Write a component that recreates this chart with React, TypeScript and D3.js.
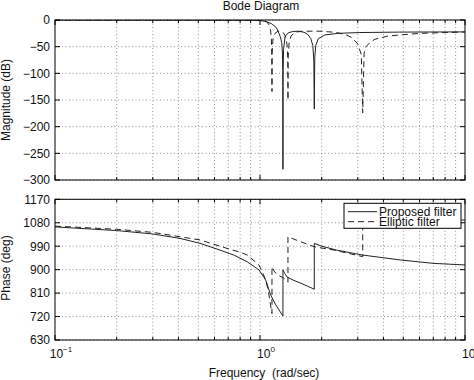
import React from "react";
import * as d3 from "d3";

// ---- Data (frequency rad/s, value) ----
const magProposed: [number, number][] = [
  [0.1, 0], [0.5, 0], [0.9, -0.3], [0.97, -0.8], [1.02, -1.5], [1.07, -3], [1.14, -7],
  [1.2, -14], [1.228, -22], [1.255, -31], [1.276, -42], [1.286, -60], [1.291, -95],
  [1.294, -280], [1.297, -95], [1.303, -55], [1.325, -31], [1.374, -24], [1.45, -21.5],
  [1.54, -21], [1.64, -23], [1.71, -27], [1.77, -35], [1.81, -48], [1.83, -75],
  [1.84, -167], [1.85, -70], [1.87, -48], [1.924, -35], [2.075, -28], [2.4, -25],
  [3.07, -23.5], [4.8, -22.7], [10, -22.3],
];

const magElliptic: [number, number][] = [
  [0.1, 0], [0.5, 0], [0.95, -0.3], [1.02, -1], [1.078, -3], [1.106, -9], [1.125, -18],
  [1.136, -35], [1.141, -60], [1.144, -134], [1.147, -60], [1.157, -35], [1.184, -25],
  [1.224, -21], [1.266, -21.5], [1.309, -25], [1.339, -33], [1.358, -50], [1.365, -72],
  [1.369, -150], [1.373, -70], [1.385, -45], [1.416, -30], [1.481, -23], [1.6, -21],
  [1.96, -21], [2.32, -23], [2.6, -27], [2.81, -33], [3.0, -45], [3.12, -65],
  [3.17, -174], [3.22, -62], [3.29, -50], [3.44, -42], [3.64, -36], [4.21, -30],
  [6.03, -25], [10, -22.5],
];

const phaseProposed: [number, number][] = [
  [0.1, 1064], [0.2, 1050], [0.3, 1037], [0.407, 1020], [0.51, 1001], [0.638, 975],
  [0.75, 955], [0.867, 930], [0.989, 899], [1.066, 860], [1.128, 803], [1.193, 765],
  [1.294, 722], [1.294, 899], [1.32, 885], [1.36, 871], [1.45, 860], [1.58, 848],
  [1.7, 837], [1.84, 825], [1.84, 1001], [2.0, 990], [2.366, 975], [3.17, 956],
  [4.85, 937], [7.06, 924], [10, 918],
];

const phaseElliptic: [number, number][] = [
  [0.1, 1067], [0.2, 1055], [0.3, 1043], [0.51, 1014], [0.714, 978], [0.8, 967],
  [0.867, 956], [0.989, 918], [1.034, 885], [1.07, 858], [1.1, 815], [1.125, 765],
  [1.144, 732], [1.144, 911], [1.17, 895], [1.214, 880], [1.29, 870], [1.34, 860],
  [1.369, 852], [1.369, 1026], [1.579, 1007], [1.84, 988], [2.3, 975], [3.17, 950],
  [3.17, 1130], [4, 1115], [6, 1100], [10, 1090],
];

const magTicks = [0, -50, -100, -150, -200, -250, -300];
const phaseTicks = [630, 720, 810, 900, 990, 1080, 1170];
const decadeTicks = [0.1, 1, 10];
const decadeExps = ["\u22121", "0", "1"];
const legendLabels = ["Proposed filter", "Elliptic filter"];

const FONT = "'Liberation Sans', Arial, Helvetica, sans-serif";

const L = 55, R = 465;
const x = d3.scaleLog().domain([0.1, 10]).range([L, R]);
const yMag = d3.scaleLinear().domain([-300, 0]).range([180, 20]);
const yPh = d3.scaleLinear().domain([630, 1170]).range([340, 199.3]);

const minorX: number[] = [];
for (const dec of [0.1, 1]) for (let k = 2; k <= 9; k++) minorX.push(dec * k);

function Panel({ y, ticks, top, bottom, id }: { y: d3.ScaleLinear<number, number>; ticks: number[]; top: number; bottom: number; id: string }) {
  const allX = [...minorX, 1];
  return (
    <g>
      <rect x={L} y={top} width={R - L} height={bottom - top} fill="#fff" />
      {allX.map((v, i) => (
        <line key={"gx" + i} x1={x(v)} x2={x(v)} y1={top} y2={bottom} stroke="#777" strokeWidth={0.8} strokeDasharray="1 2.5" />
      ))}
      {ticks.map((t, i) => (
        <line key={"gy" + i} x1={L} x2={R} y1={y(t)} y2={y(t)} stroke="#777" strokeWidth={0.8} strokeDasharray="1 2.5" />
      ))}
      <clipPath id={id}><rect x={L} y={top} width={R - L} height={bottom - top} /></clipPath>
    </g>
  );
}

function Frame({ y, ticks, top, bottom }: { y: d3.ScaleLinear<number, number>; ticks: number[]; top: number; bottom: number }) {
  return (
    <g>
      <rect x={L} y={top} width={R - L} height={bottom - top} fill="none" stroke="#000" strokeWidth={1} />
      {ticks.map((t, i) => (
        <g key={"ty" + i}>
          <line x1={L} x2={L + 5} y1={y(t)} y2={y(t)} stroke="#000" />
          <line x1={R - 5} x2={R} y1={y(t)} y2={y(t)} stroke="#000" />
          <text x={50} y={y(t) + 4.3} textAnchor="end" fontSize={12} fontFamily={FONT} fill="#111">
            {t < 0 ? "\u2212" + Math.abs(t) : t}
          </text>
        </g>
      ))}
      {minorX.map((v, i) => (
        <g key={"mx" + i}>
          <line x1={x(v)} x2={x(v)} y1={bottom} y2={bottom - 3} stroke="#000" />
          <line x1={x(v)} x2={x(v)} y1={top} y2={top + 3} stroke="#000" />
        </g>
      ))}
      {decadeTicks.map((v, i) => (
        <g key={"dx" + i}>
          <line x1={x(v)} x2={x(v)} y1={bottom} y2={bottom - 5} stroke="#000" />
          <line x1={x(v)} x2={x(v)} y1={top} y2={top + 5} stroke="#000" />
        </g>
      ))}
    </g>
  );
}

export default function App() {
  const lineMag = d3.line<[number, number]>().x((d) => x(d[0])).y((d) => yMag(d[1]));
  const linePh = d3.line<[number, number]>().x((d) => x(d[0])).y((d) => yPh(d[1]));
  const lx = 344, ly = 203.3, lw = 117, lh = 25;
  return (
    <svg width={474} height={380} style={{ position: "absolute", left: 0, top: 0 }} xmlns="http://www.w3.org/2000/svg">
      <rect width={474} height={380} fill="#fff" />
      <text x={261} y={9.5} textAnchor="middle" fontSize={12} fontFamily={FONT} fill="#111">Bode Diagram</text>

      {/* Magnitude panel */}
      <Panel y={yMag} ticks={magTicks} top={20} bottom={180} id="clipMag" />
      <g clipPath="url(#clipMag)">
        <path d={lineMag(magElliptic) || ""} fill="none" stroke="#222" strokeWidth={1} strokeDasharray="6 4" />
        <path d={lineMag(magProposed) || ""} fill="none" stroke="#222" strokeWidth={1} />
      </g>
      <Frame y={yMag} ticks={magTicks} top={20} bottom={180} />
      <text transform="translate(10,100) rotate(-90)" textAnchor="middle" fontSize={12} fontFamily={FONT} fill="#111">Magnitude (dB)</text>

      {/* Phase panel */}
      <Panel y={yPh} ticks={phaseTicks} top={199.3} bottom={340} id="clipPh" />
      <g clipPath="url(#clipPh)">
        <path d={linePh(phaseElliptic) || ""} fill="none" stroke="#222" strokeWidth={1} strokeDasharray="6 4" />
        <path d={linePh(phaseProposed) || ""} fill="none" stroke="#222" strokeWidth={1} />
      </g>
      <Frame y={yPh} ticks={phaseTicks} top={199.3} bottom={340} />
      <text transform="translate(10,268) rotate(-90)" textAnchor="middle" fontSize={12} fontFamily={FONT} fill="#111">Phase (deg)</text>

      {decadeTicks.map((v, i) => (
        <text key={"xl" + i} x={x(v) + 6} y={358} textAnchor="middle" fontSize={12} fontFamily={FONT} fill="#111">
          10<tspan fontSize={8} dy={-6}>{decadeExps[i]}</tspan>
        </text>
      ))}
      <text x={264} y={377} textAnchor="middle" fontSize={12} fontFamily={FONT} fill="#111" style={{ whiteSpace: "pre" }}>
        {"Frequency  (rad/sec)"}
      </text>

      {/* Legend */}
      <rect x={lx} y={ly} width={lw} height={lh} fill="#fff" stroke="#000" strokeWidth={1} />
      <line x1={348} x2={377} y1={211.7} y2={211.7} stroke="#222" strokeWidth={1} />
      <line x1={348} x2={377} y1={221.7} y2={221.7} stroke="#222" strokeWidth={1} strokeDasharray="6 4" />
      <text x={379} y={215.5} fontSize={12} fontFamily={FONT} fill="#111">{legendLabels[0]}</text>
      <text x={379} y={225.5} fontSize={12} fontFamily={FONT} fill="#111">{legendLabels[1]}</text>
    </svg>
  );
}
